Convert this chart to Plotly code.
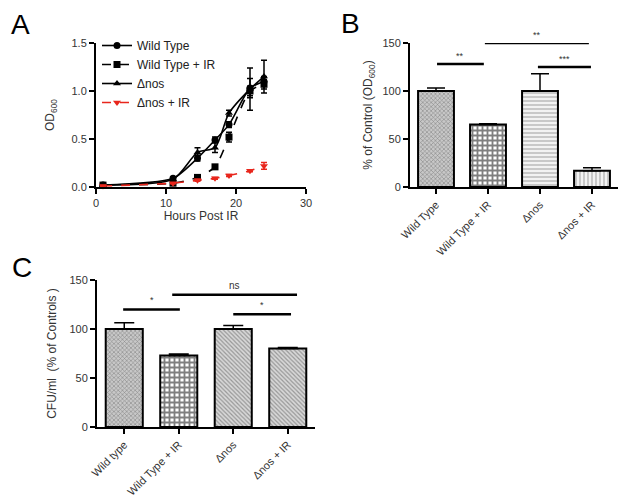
import plotly.graph_objects as go

W, H = 629, 500
FONT = "Arial, Liberation Sans, sans-serif"
PAGE_OFFSET = 8  # default body margin of the HTML page

# ---------------- Panel A data ----------------
hours = [1, 11, 14.5, 17, 19, 22, 24]
wt = [0.02, 0.09, 0.30, 0.49, 0.65, 1.03, 1.10]
wt_err = [0.01, 0.01, 0.03, 0.03, 0.03, 0.10, 0.05]
wt_ir = [0.02, 0.04, 0.10, 0.21, 0.52, 1.00, 1.07]
wt_ir_err = [0.01, 0.01, 0.01, 0.01, 0.05, 0.05, 0.05]
dnos = [0.02, 0.08, 0.36, 0.41, 0.77, 1.02, 1.15]
dnos_err = [0.01, 0.01, 0.05, 0.05, 0.03, 0.22, 0.17]
dnos_ir = [0.01, 0.04, 0.07, 0.09, 0.12, 0.17, 0.22]
dnos_ir_err = [0.005, 0.005, 0.01, 0.01, 0.01, 0.01, 0.035]

# ---------------- Panel B data ----------------
cats_b = ["Wild Type", "Wild Type + IR", "Δnos", "Δnos + IR"]
vals_b = [100, 65, 100, 17]
err_b = [3, 1, 18, 3]
sig_b_labels = ["**", "**", "***"]
sig_b_x0 = [0.02, 0.94, 1.96]
sig_b_x1 = [0.92, 2.94, 2.98]
sig_b_y = [128, 150, 125]

# ---------------- Panel C data ----------------
cats_c = ["Wild type", "Wild Type + IR", "Δnos", "Δnos + IR"]
vals_c = [100, 73, 100, 80]
err_c = [6.5, 1.5, 3.5, 1]
sig_c_labels = ["*", "ns", "*"]
sig_c_x0 = [-0.02, 0.88, 2.0]
sig_c_x1 = [1.02, 3.17, 3.06]
sig_c_y = [120, 135, 115]

def px_x(p):
    return (p - PAGE_OFFSET) / W

def px_y(p):
    return 1 - (p - PAGE_OFFSET) / H

fig = go.Figure()

# Panel A traces
series = [
    ("Wild Type", wt, wt_err, "circle", "black", "solid"),
    ("Wild Type + IR", wt_ir, wt_ir_err, "square", "black", "dash"),
    ("Δnos", dnos, dnos_err, "triangle-up", "black", "solid"),
    ("Δnos + IR", dnos_ir, dnos_ir_err, "triangle-down", "#e8261c", "dash"),
]
for name, ys, es, sym, col, dash in series:
    fig.add_trace(go.Scatter(
        x=hours, y=ys, name=name, mode="lines+markers",
        line=dict(color=col, width=1.6, dash=dash, shape="spline", smoothing=0.7),
        marker=dict(symbol=sym, size=7, color=col),
        error_y=dict(type="data", array=es, color=col, thickness=1.5, width=3),
        xaxis="x", yaxis="y", cliponaxis=False,
    ))

# Panel B bars
patterns_b = [
    dict(shape="x", size=3, solidity=0.35, fgcolor="#444", bgcolor="#c8c8c8"),
    dict(shape="+", size=5, solidity=0.6, fgcolor="black", bgcolor="white"),
    dict(shape="-", size=4, solidity=0.35, fgcolor="#777", bgcolor="#f2f2f2"),
    dict(shape="|", size=4, solidity=0.35, fgcolor="#777", bgcolor="#f2f2f2"),
]
for i in range(4):
    fig.add_trace(go.Bar(
        x=[cats_b[i]], y=[vals_b[i]], width=0.69,
        marker=dict(color="white", pattern=patterns_b[i], line=dict(color="black", width=2)),
        error_y=dict(type="data", array=[err_b[i]], arrayminus=[0], symmetric=False,
                     color="black", thickness=1.5, width=9),
        xaxis="x2", yaxis="y2", showlegend=False,
    ))

# Panel C bars
patterns_c = [
    dict(shape="x", size=3, solidity=0.35, fgcolor="#444", bgcolor="#c8c8c8"),
    dict(shape="+", size=5, solidity=0.6, fgcolor="black", bgcolor="white"),
    dict(shape="\\", size=3, solidity=0.4, fgcolor="#555", bgcolor="#d8d8d8"),
    dict(shape="\\", size=3, solidity=0.4, fgcolor="#555", bgcolor="#d8d8d8"),
]
for i in range(4):
    fig.add_trace(go.Bar(
        x=[cats_c[i]], y=[vals_c[i]], width=0.68,
        marker=dict(color="white", pattern=patterns_c[i], line=dict(color="black", width=2)),
        error_y=dict(type="data", array=[err_c[i]], arrayminus=[0], symmetric=False,
                     color="black", thickness=1.5, width=10),
        xaxis="x3", yaxis="y3", showlegend=False,
    ))

axis_common = dict(showline=True, linecolor="black", linewidth=2, ticks="outside",
                   ticklen=5, tickwidth=2, tickcolor="black", showgrid=False, zeroline=False,
                   automargin=False,
                   tickfont=dict(family=FONT, size=11, color="#333"),
                   title_font=dict(family=FONT, size=12, color="#333"))

shapes = []
annotations = []

for lab, x0, x1, y in zip(sig_b_labels, sig_b_x0, sig_b_x1, sig_b_y):
    shapes.append(dict(type="line", xref="x2", yref="y2", x0=x0, x1=x1, y0=y, y1=y,
                       line=dict(color="black", width=2.5)))
    annotations.append(dict(xref="x2", yref="y2", x=(x0 + x1) / 2, y=y, text=lab,
                            showarrow=False, yanchor="bottom", yshift=1,
                            font=dict(family=FONT, size=9, color="#333")))
for lab, x0, x1, y in zip(sig_c_labels, sig_c_x0, sig_c_x1, sig_c_y):
    shapes.append(dict(type="line", xref="x3", yref="y3", x0=x0, x1=x1, y0=y, y1=y,
                       line=dict(color="black", width=2.5)))
    annotations.append(dict(xref="x3", yref="y3", x=(x0 + x1) / 2, y=y, text=lab,
                            showarrow=False, yanchor="bottom", yshift=2,
                            font=dict(family=FONT, size=10 if lab == "ns" else 9, color="#333")))

for letter, cx, cy in [("A", 21, 24), ("B", 350, 23), ("C", 22, 267)]:
    annotations.append(dict(xref="paper", yref="paper", x=px_x(cx), y=px_y(cy), text=letter,
                            showarrow=False, xanchor="center", yanchor="middle", borderpad=0,
                            font=dict(family=FONT, size=28, color="black")))

fig.update_layout(
    width=W, height=H, margin=dict(l=0, r=0, t=0, b=0, pad=0), autosize=False,
    paper_bgcolor="white", plot_bgcolor="white",
    font=dict(family=FONT, color="#333"),
    barmode="overlay",
    xaxis=dict(domain=[px_x(96), px_x(306)], range=[0, 30], tickvals=[0, 10, 20, 30],
               anchor="y", title=dict(text="Hours Post IR", standoff=0), **axis_common),
    yaxis=dict(domain=[px_y(187), px_y(43)], range=[0, 1.5], tickvals=[0, 0.5, 1.0, 1.5],
               tickformat=".1f", anchor="x", title=dict(text="OD<sub>600</sub>", standoff=14),
               **axis_common),
    xaxis2=dict(domain=[px_x(410), px_x(618)], range=[-0.5, 3.5], anchor="y2",
                tickangle=-45, type="category", **axis_common),
    yaxis2=dict(domain=[px_y(187), px_y(43)], range=[0, 150], tickvals=[0, 50, 100, 150],
                anchor="x2", title=dict(text="% of Control (OD<sub>600</sub>)", standoff=7),
                **axis_common),
    xaxis3=dict(domain=[px_x(97), px_x(315)], range=[-0.5, 3.5], anchor="y3",
                tickangle=-45, type="category", **axis_common),
    yaxis3=dict(domain=[px_y(427), px_y(280)], range=[0, 150], tickvals=[0, 50, 100, 150],
                anchor="x3", title=dict(text="CFU/ml  (% of Controls )", standoff=10),
                **axis_common),
    legend=dict(x=px_x(97), y=px_y(31), xanchor="left", yanchor="top",
                bgcolor="rgba(0,0,0,0)", font=dict(family=FONT, size=12, color="#222"),
                tracegroupgap=0, itemwidth=30),
    shapes=shapes, annotations=annotations,
)

fig.write_html("out.html")
